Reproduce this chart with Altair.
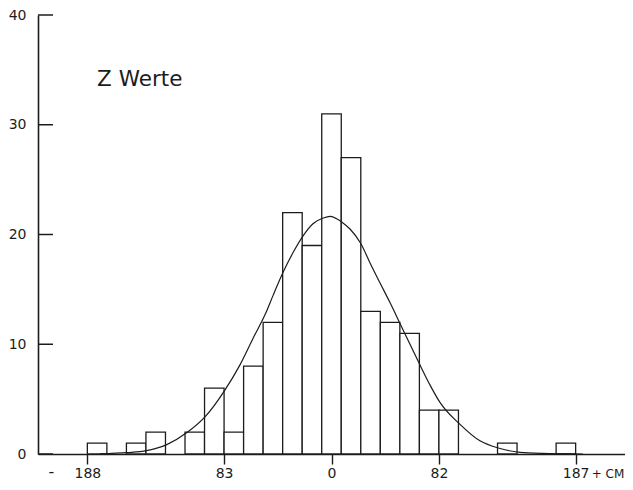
import altair as alt
import pandas as pd

# ---- data ----
bin_lo = [-187.5, -172.5, -157.5, -142.5, -127.5, -112.5, -97.5, -82.5, -67.5,
          -52.5, -37.5, -22.5, -7.5, 7.5, 22.5, 37.5, 52.5, 67.5, 82.5, 97.5,
          112.5, 127.5, 142.5, 157.5, 172.5]
counts = [1, 0, 1, 2, 0, 2, 6, 2, 8, 12, 22, 19, 31, 27, 13, 12, 11, 4, 4, 0,
          0, 1, 0, 0, 1]
BIN_W = 15

curve_x = [-178, -157, -142, -126.5, -111, -97, -82, -70.4, -60, -51, -44.7,
           -37, -29.3, -21.7, -14, -6.3, -1.2, 8.3, 14.2, 22.4, 29.6, 37.2,
           44.9, 52.6, 60.3, 68, 75.6, 83.3, 98.7, 114, 129.4, 144.7, 162, 193]
curve_y = [0.02, 0.12, 0.3, 0.85, 1.95, 3.4, 5.8, 8.1, 10.6, 12.7, 14.5,
           16.6, 18.4, 19.9, 21.0, 21.5, 21.65, 21.1, 20.5, 19.2, 17.4, 15.6,
           13.8, 11.9, 10.0, 8.1, 6.3, 4.7, 2.7, 1.2, 0.5, 0.15, 0.05, 0.0]

x_ticks = [-187.5, -82.5, 0, 82.5, 187.5]
x_tick_labels = ["188", "83", "0", "82", "187"]
y_ticks = [0, 10, 20, 30, 40]

title_text = "Z Werte"
left_sign = "-"
right_unit = "+ CM"

# ---- layout ----
W, H = 587, 439
FONT = "DejaVu Sans"
INK = "#1c1c1c"

bars_df = pd.DataFrame({"lo": bin_lo, "count": counts})
curve_df = pd.DataFrame({"x": curve_x, "y": curve_y})
yt_df = pd.DataFrame({"v": y_ticks})

xscale = alt.Scale(domain=[-225.4, 225.4], nice=False, zero=False)
yscale = alt.Scale(domain=[0, 40], nice=False)

label_expr = "{}[indexof({}, datum.value)]".format(
    "[" + ",".join("'%s'" % s for s in x_tick_labels) + "]",
    "[" + ",".join(str(v) for v in x_ticks) + "]",
)

x_axis = alt.Axis(values=x_ticks, labelExpr=label_expr, title=None, grid=False,
                  tickSize=10, tickColor=INK, tickWidth=1.4, domainColor=INK,
                  domainWidth=1.6, labelPadding=2, labelFont=FONT,
                  labelFontSize=14, labelColor=INK, labelFlush=False)
y_axis = alt.Axis(values=y_ticks, title=None, grid=False, ticks=False,
                  domainColor=INK, domainWidth=1.6, labelPadding=12,
                  labelFont=FONT, labelFontSize=14, labelColor=INK)

bars = alt.Chart(bars_df).transform_filter("datum.count > 0").transform_calculate(
    hi="datum.lo + %d" % BIN_W
).mark_bar(fill="white", stroke=INK, strokeWidth=1.3).encode(
    x=alt.X("lo:Q", scale=xscale, axis=x_axis),
    x2="hi:Q",
    y=alt.Y("count:Q", scale=yscale, axis=y_axis),
    y2=alt.datum(0),
)

curve = alt.Chart(curve_df).mark_line(color=INK, strokeWidth=1.2,
                                       interpolate="monotone").encode(
    x=alt.X("x:Q", scale=xscale),
    y=alt.Y("y:Q", scale=yscale),
)

yticks = alt.Chart(yt_df).mark_rule(color=INK, strokeWidth=1.5).encode(
    y=alt.Y("v:Q", scale=yscale),
    x=alt.value(0),
    x2=alt.value(15),
)

title = alt.Chart(pd.DataFrame({"t": [title_text]})).mark_text(
    align="left", baseline="alphabetic", font=FONT, fontSize=21.5, color=INK
).encode(x=alt.datum(-180), y=alt.datum(33.5), text="t:N")

minus = alt.Chart(pd.DataFrame({"t": [left_sign]})).mark_text(
    align="center", baseline="middle", font=FONT, fontSize=16, color=INK,
    dx=-36, dy=-2
).encode(x=alt.datum(x_ticks[0]), y=alt.value(H + 20), text="t:N")

unit = alt.Chart(pd.DataFrame({"t": [right_unit]})).mark_text(
    align="left", baseline="middle", font=FONT, fontSize=12, color=INK, dx=16
).encode(x=alt.datum(x_ticks[-1]), y=alt.value(H + 20), text="t:N")

chart = alt.layer(bars, curve, yticks, title, minus, unit).properties(
    width=W, height=H,
    autosize=alt.AutoSizeParams(type="none"),
    padding={"left": 30, "top": 7, "right": 0, "bottom": 28},
    background="white",
).configure_view(stroke=None)

chart.save("out.html", embed_options={"renderer": "svg", "actions": False})
